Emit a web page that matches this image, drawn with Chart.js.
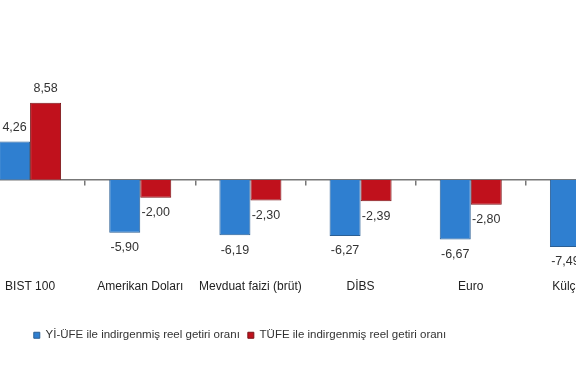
<!DOCTYPE html>
<html>
<head>
<meta charset="utf-8">
<script src="https://cdn.jsdelivr.net/npm/chart.js@4/dist/chart.umd.min.js"></script>
<style>
  html, body { margin:0; padding:0; background:#fff; overflow:hidden; }
  body { width:576px; height:384px; position:relative; }
  #wrap { position:absolute; left:-156px; top:0; width:792px; height:384px; }
</style>
</head>
<body>
<div id="wrap"><canvas id="c"></canvas></div>
<script>
const categories = ['BIST 100', 'Amerikan Doları', 'Mevduat faizi (brüt)', 'DİBS', 'Euro', 'Külçe Altın'];
const yiUfe = [4.26, -5.90, -6.19, -6.27, -6.67, -7.49];
const tufe = [8.58, -2.00, -2.30, -2.39, -2.80, -3.60];
const seriesNames = ['Yİ-ÜFE ile indirgenmiş reel getiri oranı', 'TÜFE ile indirgenmiş reel getiri oranı'];

const FONT = '"Liberation Sans", Arial, sans-serif';

// value labels at the end of every bar
const valueLabels = {
  id: 'valueLabels',
  afterDatasetsDraw(chart) {
    const ctx = chart.ctx;
    ctx.save();
    ctx.font = '12.5px ' + FONT;
    ctx.fillStyle = '#333';
    ctx.textAlign = 'center'; ctx.textBaseline = 'middle';
    chart.data.datasets.forEach((ds, i) => {
      chart.getDatasetMeta(i).data.forEach((bar, j) => {
        const v = ds.data[j];
        const y = v >= 0 ? bar.y - 14 : bar.y + 15;
        ctx.fillText(v.toFixed(2).replace('.', ','), bar.x, y);
      });
    });
    ctx.restore();
  }
};

new Chart(document.getElementById('c'), {
  type: 'bar',
  data: {
    labels: categories,
    datasets: [
      { label: seriesNames[0], data: yiUfe, backgroundColor: '#2f7fd0', borderColor: '#2b5f94', borderWidth: 1 },
      { label: seriesNames[1], data: tufe, backgroundColor: '#c0111c', borderColor: '#7a1518', borderWidth: 1 }
    ]
  },
  options: {
    responsive: true, maintainAspectRatio: false, animation: false,
    categoryPercentage: 0.563, barPercentage: 1,
    layout: { padding: { top: 72, bottom: 33, left: 0, right: 0 } },
    plugins: {
      legend: {
        position: 'bottom',
        labels: { boxWidth: 6, boxHeight: 6, padding: 8, color: '#333', font: { family: FONT, size: 11.5 } }
      },
      tooltip: { enabled: false }
    },
    scales: {
      y: {
        min: -10, max: 12,
        ticks: { display: false },
        grid: { display: false }, border: { display: false },
        afterFit: s => { s.width = 131; }
      },
      x: {
        grid: { display: false }, border: { display: false },
        ticks: { color: '#222', padding: 2, font: { family: FONT, size: 12 } },
        afterFit: s => { s.height = 52; }
      },
      x2: {
        type: 'category', labels: categories, offset: true,
        position: { y: 0 },
        ticks: { display: false },
        grid: { display: true, offset: true, drawOnChartArea: false, tickLength: 5, color: '#777', lineWidth: 1.5 },
        border: { display: true, color: '#777', width: 1.5 },
        afterFit: s => { s.height = 0; }
      }
    }
  },
  plugins: [valueLabels]
});
</script>
</body>
</html>
